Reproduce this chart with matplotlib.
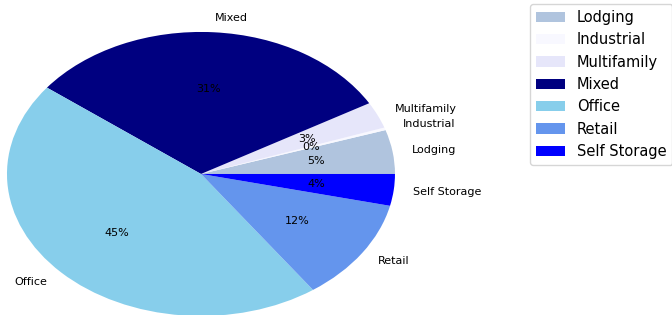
import matplotlib.pyplot as plt

labels = ['Lodging', 'Industrial', 'Multifamily', 'Mixed', 'Office', 'Retail', 'Self Storage']
shares = [5.0, 0.3, 3.0, 31.3, 45.2, 11.6, 3.6]
colors = ['lightsteelblue', 'ghostwhite', 'lavender', 'navy', 'skyblue', 'cornflowerblue', 'blue']

fig = plt.figure(figsize=(6.72, 3.15), dpi=100)
ax = fig.add_axes([0, 0, 1, 1])

wedges, texts, autotexts = ax.pie(shares, labels=labels, colors=colors,
                                  autopct='%1.0f%%', textprops={'fontsize': 8})
ax.set_aspect('auto')
ax.set_xlim(-1.036, 2.428)
ax.set_ylim(-0.993, 1.225)

fig.legend(wedges, labels, loc='upper left', bbox_to_anchor=(523 / 672, 1 + 3 / 315),
           fontsize=10.5)

fig.savefig('out.png', dpi=100)
